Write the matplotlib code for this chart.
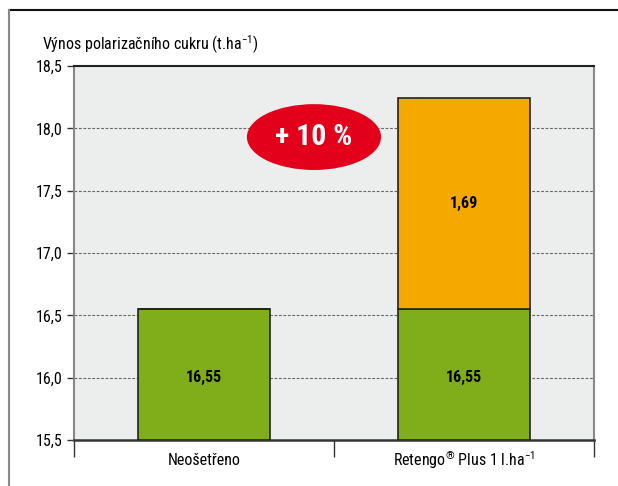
import matplotlib
matplotlib.use("Agg")
import matplotlib.pyplot as plt
from matplotlib.patches import Ellipse
from matplotlib.lines import Line2D
import matplotlib.font_manager as fm

names = {f.name for f in fm.fontManager.ttflist}
pref = ['Liberation Sans Narrow', 'Roboto Condensed', 'PT Sans Narrow', 'Archivo Narrow', 'Arial Narrow']
chosen = [n for n in pref if n in names]
plt.rcParams['font.family'] = (chosen[:1] + ['DejaVu Sans'])
plt.rcParams['mathtext.fontset'] = 'custom'
if chosen:
    plt.rcParams['mathtext.rm'] = chosen[0]
    plt.rcParams['mathtext.it'] = chosen[0]
    plt.rcParams['mathtext.bf'] = chosen[0] + ':bold'

categories = ["Neošetřeno", "Retengo$^{®}$ Plus 1 l.ha$^{-1}$"]
base_values = [16.55, 16.55]
increase_values = [0, 1.69]
base_labels = ["16,55", "16,55"]
increase_labels = ["", "1,69"]
yticks = [15.5, 16.0, 16.5, 17.0, 17.5, 18.0, 18.5]
ytick_labels = ["15,5", "16,0", "16,5", "17,0", "17,5", "18,0", "18,5"]
ymin = 15.5

green = "#80AE1A"
orange = "#F5A800"
bg = "#ECEEED"
red = "#E2001A"

W, H = 618, 486
fig = plt.figure(figsize=(W/100, H/100), dpi=100)
ax = fig.add_axes([74/W, 1-440/H, 520/W, 374/H])
ax.set_facecolor(bg)

x = [0.5, 1.5]
bottoms = [ymin]*2
h1 = [v - ymin for v in base_values]
ax.bar(x, h1, bottom=bottoms, width=0.51, color=green, edgecolor="#222222", linewidth=1.2, zorder=3)
tops = [b + h for b, h in zip(bottoms, h1)]
ax.bar(x, increase_values, bottom=tops, width=0.51, color=orange, edgecolor="#222222", linewidth=1.2, zorder=3)
for xi, v, lab in zip(x, base_values, base_labels):
    ax.text(xi, 16.0, lab, ha="center", va="center", fontsize=11.5, fontweight="bold", zorder=4)
for xi, b, v, lab in zip(x, base_values, increase_values, increase_labels):
    if v:
        ax.text(xi, b + v/2, lab, ha="center", va="center", fontsize=11.5, fontweight="bold", zorder=4)

ax.set_xlim(0, 2)
ax.set_ylim(15.5, 18.5)
ax.set_yticks(yticks)
ax.set_yticklabels(ytick_labels, fontsize=11.5)
for y in yticks[1:-1]:
    ax.axhline(y, color="#666666", linestyle=(0, (2.5, 1.5)), linewidth=0.8, zorder=1)
ax.set_xticks([0, 1, 2])
ax.set_xticklabels([])
ax.tick_params(axis="x", length=12, width=1.0, color="#333333")
ax.tick_params(axis="y", length=5, width=1.0, color="#333333", pad=3)
for xi, c in zip(x, categories):
    ax.text(xi, 16, c, transform=ax.transData, ha="center", va="center", fontsize=11.5)

ax.spines["top"].set_color("#222222")
ax.spines["top"].set_linewidth(1.5)
ax.spines["bottom"].set_color("#333333")
ax.spines["bottom"].set_linewidth(1.8)
ax.spines["left"].set_color("#888888")
ax.spines["right"].set_color("#888888")
ax.spines["left"].set_linewidth(1.5)
ax.spines["right"].set_linewidth(1.5)

e = Ellipse((0.4615, 0.81), 0.258, 0.176, transform=ax.transAxes, facecolor=red, edgecolor="none", zorder=5)
ax.add_patch(e)
ax.text(0.4615, 0.81, "+ 10 %", transform=ax.transAxes, ha="center", va="center",
        fontsize=21.5, fontweight="bold", color="white", zorder=6)

fig.text(42/W, 1-45/H, "Výnos polarizačního cukru (t.ha$^{-1}$)", ha="left", va="center", fontsize=11.5)

fig.add_artist(Line2D([9/W, 1.0], [1-10/H, 1-10/H], color="#111111", linewidth=1.5, transform=fig.transFigure))
fig.add_artist(Line2D([9/W, 9/W], [0, 1-10/H], color="#888888", linewidth=1.5, transform=fig.transFigure))

# category labels positioned below the axis in figure pixels
for t in ax.texts:
    if t.get_text() in categories:
        xd = t.get_position()[0]
        xpix = ax.transData.transform((xd, 16))[0]
        t.set_transform(fig.transFigure)
        t.set_position((xpix/W, 1-460/H))

fig.savefig("out.png", dpi=100, facecolor="white")
